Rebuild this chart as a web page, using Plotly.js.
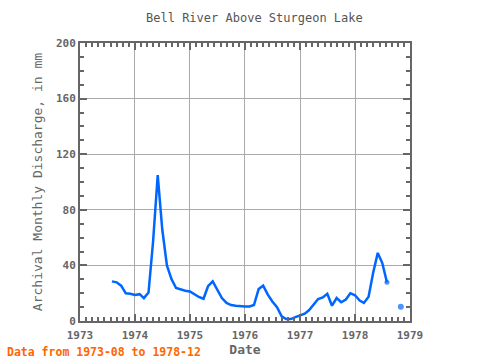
<!DOCTYPE html>
<html>
<head>
<meta charset="utf-8">
<script src="https://cdn.plot.ly/plotly-3.0.1.min.js"></script>
<style>html,body{margin:0;padding:0;background:#fff;}#chart{width:480px;height:360px;}</style>
</head>
<body>
<div id="chart"></div>
<script>
var months = [
  "1973-08-01","1973-09-01","1973-10-01","1973-11-01","1973-12-01",
  "1974-01-01","1974-02-01","1974-03-01","1974-04-01","1974-05-01","1974-06-01","1974-07-01","1974-08-01","1974-09-01","1974-10-01","1974-11-01","1974-12-01",
  "1975-01-01","1975-02-01","1975-03-01","1975-04-01","1975-05-01","1975-06-01","1975-07-01","1975-08-01","1975-09-01","1975-10-01","1975-11-01","1975-12-01",
  "1976-01-01","1976-02-01","1976-03-01","1976-04-01","1976-05-01","1976-06-01","1976-07-01","1976-08-01","1976-09-01","1976-10-01","1976-11-01","1976-12-01",
  "1977-01-01","1977-02-01","1977-03-01","1977-04-01","1977-05-01","1977-06-01","1977-07-01","1977-08-01","1977-09-01","1977-10-01","1977-11-01","1977-12-01",
  "1978-01-01","1978-02-01","1978-03-01","1978-04-01","1978-05-01","1978-06-01","1978-07-01","1978-08-01","1978-09-01","1978-10-01","1978-11-01","1978-12-01"
];
var discharge = [
  28.5, 27.8, 25.4, 19.9, 19.6,
  18.7, 19.3, 16.5, 20.5, 57, 105, 66, 40, 30, 23.7, 22.5, 21.8,
  21.3, 19.0, 17.3, 16.0, 25, 28.5, 22.5, 16.5, 13, 11.5, 11, 10.5,
  10.5, 10.5, 11.5, 23, 25.4, 19, 14, 10, 3.3, 1.4, 1.4, 2.8,
  3.8, 5.3, 7.7, 11.7, 15.8, 17, 19.6, 11, 16.5, 13.5, 15.5, 20,
  18.5, 14.7, 13, 17.5, 34.5, 49, 41.7, 27.8, null, null, 10.3, null
];
var xTickVals = ["1973-01-01","1974-01-01","1975-01-01","1976-01-01","1977-01-01","1978-01-01","1979-01-01"];
var xTickText = ["1973","1974","1975","1976","1977","1978","1979"];
var yTickVals = [0, 40, 80, 120, 160, 200];

// show a marker only where a point has no neighbour to connect to, or ends a run
var markerSizes = discharge.map(function (v, i) {
  if (v === null) return 0;
  var prev = i > 0 ? discharge[i - 1] : null;
  var next = i < discharge.length - 1 ? discharge[i + 1] : null;
  if (prev === null && next === null) return 6;
  if (next === null && i > 0) return 5;
  return 0;
});

var mono = "DejaVu Sans Mono, Liberation Mono, monospace";
var trace = {
  x: months, y: discharge, type: "scatter", mode: "lines+markers",
  line: {color: "#0066ff", width: 2.5},
  marker: {color: "#0066ff", size: markerSizes, line: {width: 0}},
  connectgaps: false, hoverinfo: "skip"
};
var layout = {
  width: 480, height: 360,
  margin: {l: 80, r: 70, t: 43, b: 39},
  paper_bgcolor: "#fff", plot_bgcolor: "#fff",
  showlegend: false,
  title: {text: "Bell River Above Sturgeon Lake", font: {family: mono, size: 12, color: "#555"}, x: 0.53, xanchor: "center", y: 0.95, yanchor: "middle"},
  xaxis: {
    type: "date", range: ["1973-01-01", "1979-01-01"],
    tickmode: "array", tickvals: xTickVals, ticktext: xTickText,
    ticks: "inside", ticklen: 7, tickwidth: 2, tickcolor: "#666",
    showline: true, linecolor: "#666", linewidth: 2, mirror: "allticks",
    showgrid: true, gridcolor: "#aaa", gridwidth: 1, zeroline: false,
    ticklabelstandoff: 3,
    tickfont: {family: mono, size: 11, color: "#666", weight: "bold"},
    minor: {dtick: 3506400000, tick0: "1973-01-01", ticks: "inside", ticklen: 4, tickwidth: 2, tickcolor: "#666", showgrid: false},
    title: {text: "Date", font: {family: mono, size: 13, color: "#666", weight: "bold"}, standoff: 2}
  },
  yaxis: {
    range: [0, 200], tickmode: "array", tickvals: yTickVals,
    ticks: "inside", ticklen: 7, tickwidth: 2, tickcolor: "#666",
    showline: true, linecolor: "#666", linewidth: 2, mirror: "allticks",
    showgrid: true, gridcolor: "#aaa", gridwidth: 1, zeroline: false,
    tickfont: {family: mono, size: 11, color: "#666", weight: "bold"},
    minor: {dtick: 10, ticks: "inside", ticklen: 4, tickwidth: 2, tickcolor: "#666", showgrid: false},
    title: {text: "Archival Monthly Discharge, in mm", font: {family: mono, size: 13, color: "#666"}, standoff: 10}
  },
  annotations: [{
    text: "Data from 1973-08 to 1978-12", showarrow: false,
    xref: "paper", yref: "paper", x: -0.227, xanchor: "left", y: -0.112, yanchor: "middle",
    font: {family: mono, size: 11.5, color: "#ff6600", weight: "bold"}
  }]
};
Plotly.newPlot("chart", [trace], layout, {displayModeBar: false, staticPlot: true});
</script>
</body>
</html>
